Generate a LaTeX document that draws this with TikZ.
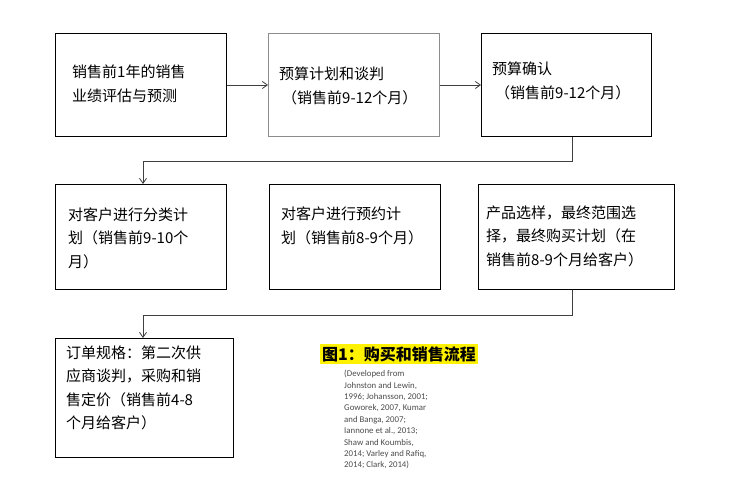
\documentclass[tikz,border=0pt]{standalone}
\usepackage{fontspec}
\setmainfont{Noto Sans CJK SC}
\newfontfamily\citefont{Carlito}
\usetikzlibrary{arrows.meta}
\begin{document}
\begin{tikzpicture}[x=1pt,y=-1pt,
  box/.style={draw=black,line width=0.9pt,anchor=north west,inner sep=0pt},
  txt/.style={anchor=west,align=left,font=\fontsize{15}{23.5}\selectfont,inner sep=0pt},
  conn/.style={draw=black!75,line width=0.8pt,-{Straight Barb[length=5pt,width=7pt]}}]
\useasboundingbox[fill=white] (0,0) rectangle (735,484);
% row 1
\node[box,minimum width=171pt,minimum height=103pt] (A) at (55,33) {};
\node[box,draw=black!45,minimum width=171pt,minimum height=103pt] (B) at (268,33) {};
\node[box,minimum width=170pt,minimum height=103pt] (C) at (481,33) {};
% row 2
\node[box,minimum width=171pt,minimum height=105pt] (D) at (55,184) {};
\node[box,minimum width=171pt,minimum height=105pt] (E) at (269,184) {};
\node[box,minimum width=196pt,minimum height=105pt] (F) at (478,184) {};
% row 3
\node[box,minimum width=178pt,minimum height=119pt] (G) at (55,338) {};
% texts
\node[txt] (tA) at (72,84) {销售前1年的销售\\业绩评估与预测};
\node[txt] (tB) at (279,86) {预算计划和谈判\\\hspace*{0.2em}（销售前9-12个月）};
\node[txt] (tC) at (492,81) {预算确认\\\hspace*{0.2em}（销售前9-12个月）};
\node[txt] (tD) at (68,238) {对客户进行分类计\\划（销售前9-10个\\月）};
\node[txt] (tE) at (281,226) {对客户进行预约计\\划（销售前8-9个月）};
\node[txt] (tF) at (486,236) {产品选样，最终范围选\\择，最终购买计划（在\\销售前8-9个月给客户）};
\node[txt] (tG) at (66,388) {订单规格：第二次供\\应商谈判，采购和销\\售定价（销售前4-8\\个月给客户）};
% title and citation
\node[anchor=west,fill=yellow,inner xsep=2pt,inner ysep=2pt,font=\fontsize{16}{18}\bfseries\selectfont] (title) at (320,354) {图1：购买和销售流程};
\node[anchor=north west,align=left,inner sep=0pt,text=black!70,font=\citefont\fontsize{8.8}{11.4}\selectfont] (cite) at (344,370) {(Developed from\\Johnston and Lewin,\\1996; Johansson, 2001;\\Goworek, 2007, Kumar\\and Banga, 2007;\\Iannone et al., 2013;\\Shaw and Koumbis,\\2014; Varley and Rafiq,\\2014; Clark, 2014)};
% connectors
\draw[conn] (A.east |- 0,85) -- (B.west |- 0,85);
\draw[conn] (B.east |- 0,85) -- (C.west |- 0,85);
\coordinate (c1) at (572,161);
\coordinate (c2) at (143,161);
\draw[conn] (C.south -| c1) -- (c1) -- (c2) -- (D.north -| c2);
\coordinate (f1) at (572,315);
\coordinate (f2) at (143,315);
\draw[conn] (F.south -| f1) -- (f1) -- (f2) -- (G.north -| f2);
\end{tikzpicture}
\end{document}
